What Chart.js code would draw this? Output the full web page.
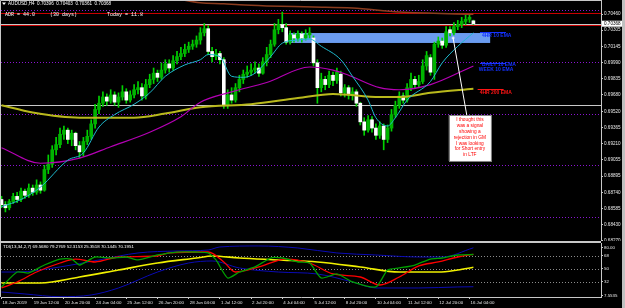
<!DOCTYPE html>
<html>
<head>
<meta charset="utf-8">
<script src="https://cdn.jsdelivr.net/npm/chart.js@4.4.1/dist/chart.umd.min.js"></script>
<style>
  html, body { margin: 0; padding: 0; background: #000; }
  body { width: 625px; height: 308px; position: relative; overflow: hidden; }
  canvas { position: absolute; left: 0; }
  #main { top: 0; }
  #tdi { top: 243px; }
  #sep { position: absolute; left: 0; top: 241px; width: 601px; height: 2px; background: #c8c8c8; }
  #edge { position: absolute; left: 622px; top: 0; width: 3px; height: 308px; background: #c0c0c0; }
</style>
</head>
<body>
<canvas id="main" width="625" height="241" style="width:625px;height:241px"></canvas>
<div id="sep"></div>
<canvas id="tdi" width="625" height="65" style="width:625px;height:65px"></canvas>
<div id="edge"></div>
<script>
// AUDUSD H4 candles, 18 Jun 2019 .. 16 Jul 04:00
var candleOpen = [
  0.6867,0.6862,0.6859,0.6865,0.6870,0.6867,0.6875,0.6871,0.6878,0.6874,
  0.6881,0.6876,0.6896,0.6901,0.6915,0.6920,0.6930,0.6934,0.6925,0.6931,
  0.6919,0.6913,0.6923,0.6928,0.6940,0.6954,0.6960,0.6966,0.6962,0.6968,
  0.6961,0.6966,0.6971,0.6963,0.6968,0.6973,0.6975,0.6967,0.6978,0.6983,
  0.6989,0.6985,0.6992,0.6998,0.6994,0.7001,0.7005,0.7008,0.7012,0.7015,
  0.7017,0.7021,0.7028,0.7032,0.7010,0.7005,0.7008,0.7002,0.6958,0.6968,
  0.6963,0.6975,0.6983,0.6988,0.6990,0.6992,0.6994,0.6989,0.7000,0.7007,
  0.7017,0.7031,0.7036,0.7033,0.7019,0.7026,0.7023,0.7027,0.7023,0.7026,
  0.7023,0.6999,0.6975,0.6983,0.6978,0.6987,0.6982,0.6988,0.6970,0.6975,
  0.6968,0.6971,0.6960,0.6942,0.6934,0.6944,0.6936,0.6929,0.6938,0.6925,
  0.6936,0.6949,0.6958,0.6967,0.6963,0.6975,0.6983,0.6978,0.6981,0.6996,
  0.7004,0.6990,0.7017,0.7020,0.7016,0.7031,0.7028,0.7034,0.7036,0.7039,
  0.7041,0.70396
];
var candleHigh = [
  0.6870,0.6865,0.6867,0.6873,0.6874,0.6878,0.6877,0.6882,0.6881,0.6886,
  0.6884,0.6900,0.6910,0.6919,0.6927,0.6936,0.6938,0.6936,0.6934,0.6932,
  0.6923,0.6927,0.6934,0.6944,0.6959,0.6967,0.6971,0.6969,0.6973,0.6971,
  0.6970,0.6977,0.6974,0.6972,0.6978,0.6981,0.6979,0.6983,0.6988,0.6994,
  0.6992,0.6999,0.7002,0.7002,0.7006,0.7010,0.7014,0.7017,0.7019,0.7021,
  0.7025,0.7033,0.7037,0.7035,0.7014,0.7012,0.7010,0.7004,0.6973,0.6975,
  0.6979,0.6987,0.6992,0.6996,0.6998,0.7000,0.6998,0.7004,0.7014,0.7021,
  0.7037,0.7041,0.7048,0.7037,0.7030,0.7028,0.7030,0.7029,0.7031,0.7033,
  0.7025,0.7002,0.6989,0.6986,0.6991,0.6990,0.6994,0.6991,0.6978,0.6977,
  0.6975,0.6973,0.6961,0.6946,0.6948,0.6947,0.6940,0.6942,0.6940,0.6939,
  0.6954,0.6962,0.6971,0.6970,0.6979,0.6989,0.6986,0.6987,0.7002,0.7010,
  0.7007,0.7019,0.7024,0.7023,0.7034,0.7034,0.7038,0.7040,0.7043,0.7045,
  0.7046,0.70403
];
var candleLow = [
  0.6859,0.6855,0.6857,0.6863,0.6864,0.6865,0.6868,0.6869,0.6871,0.6872,
  0.6873,0.6875,0.6892,0.6898,0.6910,0.6917,0.6925,0.6921,0.6919,0.6915,
  0.6907,0.6909,0.6920,0.6925,0.6936,0.6950,0.6957,0.6958,0.6960,0.6958,
  0.6956,0.6963,0.6960,0.6961,0.6965,0.6969,0.6963,0.6964,0.6975,0.6979,
  0.6981,0.6983,0.6989,0.6990,0.6992,0.6998,0.7002,0.7005,0.7009,0.7012,
  0.7014,0.7017,0.7025,0.7007,0.7000,0.7002,0.6998,0.6955,0.6955,0.6960,
  0.6961,0.6971,0.6979,0.6985,0.6987,0.6989,0.6986,0.6988,0.6996,0.7004,
  0.7015,0.7027,0.7029,0.7017,0.7017,0.7019,0.7020,0.7019,0.7021,0.7023,
  0.6996,0.6960,0.6971,0.6973,0.6975,0.6977,0.6979,0.6967,0.6966,0.6964,
  0.6963,0.6957,0.6939,0.6929,0.6932,0.6932,0.6925,0.6926,0.6915,0.6922,
  0.6933,0.6946,0.6955,0.6960,0.6961,0.6972,0.6974,0.6975,0.6979,0.6992,
  0.6987,0.6983,0.7014,0.7013,0.7014,0.7025,0.7026,0.7031,0.7033,0.7036,
  0.7038,0.70361
];
var candleClose = [
  0.6862,0.6859,0.6865,0.6870,0.6867,0.6875,0.6871,0.6878,0.6874,0.6881,
  0.6876,0.6896,0.6901,0.6915,0.6920,0.6930,0.6934,0.6925,0.6931,0.6919,
  0.6913,0.6923,0.6928,0.6940,0.6954,0.6960,0.6966,0.6962,0.6968,0.6961,
  0.6966,0.6971,0.6963,0.6968,0.6973,0.6975,0.6967,0.6978,0.6983,0.6989,
  0.6985,0.6992,0.6998,0.6994,0.7001,0.7005,0.7008,0.7012,0.7015,0.7017,
  0.7021,0.7028,0.7032,0.7010,0.7005,0.7008,0.7002,0.6958,0.6968,0.6963,
  0.6975,0.6983,0.6988,0.6990,0.6992,0.6994,0.6989,0.7000,0.7007,0.7017,
  0.7031,0.7036,0.7033,0.7019,0.7026,0.7023,0.7027,0.7023,0.7026,0.7028,
  0.6999,0.6975,0.6983,0.6978,0.6987,0.6982,0.6990,0.6970,0.6975,0.6968,
  0.6971,0.6960,0.6942,0.6934,0.6944,0.6936,0.6929,0.6938,0.6925,0.6936,
  0.6949,0.6958,0.6967,0.6963,0.6975,0.6983,0.6978,0.6981,0.6996,0.7006,
  0.6990,0.7017,0.7020,0.7016,0.7029,0.7028,0.7034,0.7036,0.7039,0.7041,
  0.7043,0.70368
];

// moving averages as [bar, price]
var ema4h10 = [[0,0.6860],[5,0.6867],[10,0.6879],[17,0.6905],[21,0.6912],[25,0.6937],[29,0.6949],[34,0.6959],[38,0.6970],[42,0.6986],[47,0.6997],[51,0.7002],[53,0.7007],[56,0.7005],[59,0.6986],[62,0.6985],[65,0.6989],[69,0.7005],[72,0.7018],[76,0.7021],[79,0.7022],[82,0.7015],[87,0.7002],[90,0.6986],[94,0.6963],[96,0.6946],[99,0.6938],[101,0.6946],[104,0.6963],[110,0.6981],[113,0.6999],[117,0.7015],[121,0.7028]];
var emaDaily10 = [[0,0.6917],[10,0.6902],[20,0.6907],[28,0.6918],[38,0.6932],[46,0.6947],[51,0.6961],[59,0.6971],[68,0.6980],[79,0.6995],[85,0.6992],[89,0.6987],[97,0.6975],[102,0.6973],[110,0.6978],[121,0.6996]];
var ema4h200 = [[0,0.6958],[8,0.6951],[20,0.6946],[34,0.6946],[42,0.6950],[51,0.6956],[64,0.6959],[76,0.6965],[85,0.6969],[97,0.6966],[102,0.6966],[110,0.6970],[121,0.6974]];
var emaLong = [[45,0.7061],[51,0.7057],[57,0.7056],[61,0.7055],[68,0.7054],[80,0.7053],[90,0.7052],[102,0.7048],[121,0.7046]];

// TDI(13,34,2,7)
var tdiPrice = [[0,25.1],[4,45.8],[7,44.5],[11,55.5],[15,63.8],[18,63.8],[20,55.5],[24,66.6],[28,65.2],[32,66.6],[35,62.5],[40,69.4],[45,73.5],[50,73.5],[53,72.2],[55,62.5],[58,37.5],[61,45.8],[65,52.8],[69,65.2],[72,65.2],[76,59.7],[79,58.3],[82,37.5],[86,43.1],[90,32.0],[96,25.1],[99,48.6],[102,51.4],[106,55.5],[110,63.8],[113,65.2],[117,69.4],[121,70.1]];
var tdiSignal = [[0,23.7],[4,32.0],[9,45.8],[15,58.3],[19,63.8],[24,59.7],[30,66.6],[40,68.0],[43,72.2],[53,73.5],[57,59.7],[60,45.8],[66,52.8],[73,63.8],[79,58.3],[85,43.1],[92,38.9],[97,27.8],[102,38.9],[107,54.2],[112,59.7],[117,66.6],[121,70.2]];
var tdiBase = [[0,30.6],[10,30.6],[20,38.9],[30,48.6],[40,58.3],[50,65.2],[54,68.0],[61,65.2],[71,62.5],[81,59.7],[92,52.8],[102,45.8],[112,45.8],[117,48.6],[121,52.3]];
var tdiUpper = [[0,45.8],[4,45.8],[15,52.8],[25,62.5],[35,72.2],[45,74.9],[53,76.3],[56,80.5],[66,81.9],[76,79.1],[86,72.2],[96,69.4],[107,66.6],[113,66.6],[121,79.3]];
var tdiLower = [[0,18.1],[6,15.4],[15,11.6],[23,14.0],[30,23.7],[40,45.8],[48,58.3],[54,61.1],[61,51.4],[71,45.8],[81,43.1],[90,32.0],[96,23.7],[107,23.7],[117,25.1],[121,25.4]];

var priceTicks = [0.70460,0.70305,0.70145,0.69990,0.69835,0.69680,0.69520,0.69365,0.69210,0.69055,0.68895,0.68740,0.68585,0.68430,0.68270];
var roundLevels = [0.7050,0.7000,0.6950,0.6900,0.6850];
var redLevels = [0.70471,0.70356];
var supportLevel = 0.69583;
var bidPrice = 0.70368;

var timeTickBars = [0,8,16,24,32,40,48,56,64,72,80,88,96,104,112,120];
var timeLabels = ['18 Jun 2019','19 Jun 12:00','20 Jun 20:00','24 Jun 04:00','25 Jun 12:00','26 Jun 20:00','28 Jun 04:00','1 Jul 12:00','2 Jul 20:00','4 Jul 04:00','5 Jul 12:00','8 Jul 20:00','10 Jul 04:00','11 Jul 12:00','12 Jul 20:00','16 Jul 04:00'];

var tdiTicks = [80, 68, 50, 32, 12.6];
var tdiTickText = ['80.00', '68', '50', '32', '7.5535'];
var tdiLevels = [68, 50, 32];

var noteLines = ['I thought this', 'was a signal', 'showing a', 'rejection in GM', 'I was looking', 'for Short entry', 'in LTF'];

var xMin = -0.13, xMax = 153.72;
var FONT = '"Liberation Sans", Arial, sans-serif';

Chart.defaults.font.family = FONT;
Chart.defaults.color = '#e6e6e6';

function pts(a) { return a.map(function (p) { return {x: p[0], y: p[1]}; }); }
function hline(ctx, x1, x2, y) { ctx.beginPath(); ctx.moveTo(x1, y); ctx.lineTo(x2, y); ctx.stroke(); }

var wickData = candleHigh.map(function (h, i) { return {x: i, y: [candleLow[i], h]}; });
var bodyData = candleOpen.map(function (o, i) { return {x: i, y: [Math.min(o, candleClose[i]), Math.max(o, candleClose[i])]}; });
var bodyColors = candleOpen.map(function (o, i) { return candleClose[i] >= o ? '#00b400' : '#ffffff'; });

var mtObjects = {
  id: 'mtObjects',
  beforeDatasetsDraw: function (chart) {
    var ctx = chart.ctx, a = chart.chartArea, x = chart.scales.x, y = chart.scales.y;
    ctx.save();
    ctx.beginPath(); ctx.rect(a.left, a.top, a.right - a.left, a.bottom - a.top); ctx.clip();
    // rectangle zone
    var rx1 = x.getPixelForValue(73.7), rx2 = x.getPixelForValue(125.3);
    var ry1 = y.getPixelForValue(0.70278), ry2 = y.getPixelForValue(0.70182);
    ctx.fillStyle = '#6b9cf0';
    ctx.fillRect(rx1, ry1, rx2 - rx1, ry2 - ry1);
    ctx.lineWidth = 1;
    ctx.strokeStyle = '#8a14d2'; ctx.setLineDash([1, 2]);
    roundLevels.forEach(function (v) { hline(ctx, a.left, a.right, Math.round(y.getPixelForValue(v)) + 0.5); });
    ctx.setLineDash([]);
    ctx.strokeStyle = '#c80000';
    redLevels.forEach(function (v) { hline(ctx, a.left, a.right, Math.round(y.getPixelForValue(v)) + 0.5); });
    ctx.strokeStyle = '#c8c8c8';
    hline(ctx, a.left, a.right, Math.round(y.getPixelForValue(supportLevel)) + 0.5);
    hline(ctx, a.left, a.right, Math.round(y.getPixelForValue(bidPrice)) + 0.5);
    ctx.restore();
  },
  afterDatasetsDraw: function (chart) {
    var ctx = chart.ctx, a = chart.chartArea, x = chart.scales.x, y = chart.scales.y;
    ctx.save();
    ctx.beginPath(); ctx.rect(a.left, a.top, a.right - a.left, a.bottom - a.top); ctx.clip();
    // ema tags
    var tags = [
      {text: '4HR 10 EMA', at: 123.2, price: 0.70254, color: '#1432ff', mark: 0.70288},
      {text: 'DAILY 10 EMA', at: 123.2, price: 0.69969, color: '#1432ff', mark: 0.69988},
      {text: 'WEEK 10 EMA', at: 122.4, price: 0.69921, color: '#1432ff'},
      {text: '4HR 200 EMA', at: 122.6, price: 0.69703, color: '#ff1414', mark: 0.69737}
    ];
    ctx.font = 'bold 5px ' + FONT;
    ctx.textBaseline = 'middle';
    tags.forEach(function (t) {
      var tx = x.getPixelForValue(t.at);
      ctx.fillStyle = t.color;
      ctx.fillText(t.text, tx, y.getPixelForValue(t.price));
      if (t.mark) {
        ctx.strokeStyle = t.color; ctx.lineWidth = 1;
        hline(ctx, tx - 2, tx + 24, Math.round(y.getPixelForValue(t.mark)) + 0.5);
      }
    });
    // arrow to note
    var ax1 = x.getPixelForValue(115.8), ay1 = y.getPixelForValue(0.70230);
    var ax2 = x.getPixelForValue(119.3), ay2 = y.getPixelForValue(0.69486);
    ctx.strokeStyle = '#ffffff'; ctx.lineWidth = 1;
    ctx.beginPath(); ctx.moveTo(ax1, ay1); ctx.lineTo(ax2, ay2); ctx.stroke();
    ctx.fillStyle = '#ffffff';
    ctx.fillRect(ax1 - 1.5, ay1 - 0.5, 3, 1); ctx.fillRect(ax1 - 0.5, ay1 - 1.5, 1, 3);
    // note box
    var bx1 = x.getPixelForValue(114.7), bx2 = x.getPixelForValue(125.5);
    var by1 = y.getPixelForValue(0.69486), by2 = y.getPixelForValue(0.69042);
    ctx.fillStyle = '#ffffff';
    ctx.fillRect(bx1, by1, bx2 - bx1, by2 - by1);
    ctx.strokeStyle = '#808080';
    ctx.strokeRect(Math.round(bx1) + 0.5, Math.round(by1) + 0.5, Math.round(bx2 - bx1), Math.round(by2 - by1));
    ctx.fillStyle = '#ff0000';
    ctx.font = '4.8px ' + FONT;
    ctx.textAlign = 'center';
    noteLines.forEach(function (s, k) { ctx.fillText(s, (bx1 + bx2) / 2, by1 + 5 + k * 5.8); });
    // header
    ctx.textAlign = 'left';
    ctx.fillStyle = '#ffffff';
    ctx.beginPath(); ctx.moveTo(2, 2.5); ctx.lineTo(6, 2.5); ctx.lineTo(4, 5); ctx.closePath(); ctx.fill();
    ctx.font = '4.6px ' + FONT;
    ctx.fillText('AUDUSD,H4  0.70396  0.70403  0.70361  0.70368', 8, 4);
    ctx.font = '5px "Liberation Mono", monospace';
    ctx.fillText('ADR = 44.0', 5, 14.5);
    ctx.fillText('(30 days)', 50, 14.5);
    ctx.fillText('Today = 11.8', 107, 14.5);
    ctx.restore();
  },
  afterDraw: function (chart) {
    var ctx = chart.ctx, a = chart.chartArea, y = chart.scales.y;
    ctx.save();
    ctx.strokeStyle = '#c8c8c8'; ctx.lineWidth = 1;
    ctx.beginPath();
    ctx.moveTo(a.left - 0.5, a.bottom); ctx.lineTo(a.left - 0.5, 0.5); ctx.lineTo(a.right, 0.5);
    ctx.stroke();
    var py = y.getPixelForValue(bidPrice);
    ctx.fillStyle = '#ffffff';
    ctx.fillRect(a.right + 1, py - 3, 21, 6);
    ctx.fillStyle = '#000000';
    ctx.font = '4.6px ' + FONT;
    ctx.textBaseline = 'middle';
    ctx.fillText(bidPrice.toFixed(5), a.right + 3, py);
    ctx.restore();
  }
};

new Chart(document.getElementById('main'), {
  type: 'bar',
  data: {
    datasets: [
      {type: 'line', data: pts(ema4h10), borderColor: '#1eb9cd', borderWidth: 1, pointRadius: 0, cubicInterpolationMode: 'monotone', order: 1},
      {type: 'line', data: pts(emaDaily10), borderColor: '#b400b4', borderWidth: 1.2, pointRadius: 0, cubicInterpolationMode: 'monotone', order: 1},
      {type: 'line', data: pts(ema4h200), borderColor: '#b9b91c', borderWidth: 2, pointRadius: 0, cubicInterpolationMode: 'monotone', order: 1},
      {type: 'line', data: pts(emaLong), borderColor: '#8c3c1e', borderWidth: 1.5, pointRadius: 0, cubicInterpolationMode: 'monotone', order: 1},
      {data: bodyData, backgroundColor: bodyColors, barThickness: 3, grouped: false, minBarLength: 1, order: 2},
      {data: wickData, backgroundColor: '#00d200', barThickness: 1, grouped: false, order: 3}
    ]
  },
  options: {
    responsive: false,
    animation: false,
    layout: {padding: {left: 1, top: 0, right: 0, bottom: 0}},
    plugins: {legend: {display: false}, tooltip: {enabled: false}},
    scales: {
      x: {type: 'linear', min: xMin, max: xMax, display: false, offset: false},
      y: {
        position: 'right',
        min: 0.68269,
        max: 0.70597,
        afterBuildTicks: function (s) { s.ticks = priceTicks.map(function (v) { return {value: v}; }); },
        afterFit: function (s) { s.width = 24; s.paddingTop = 0; s.paddingBottom = 0; },
        ticks: {font: {size: 4.6}, color: '#e6e6e6', padding: 1, callback: function (v) { return v.toFixed(5); }},
        grid: {drawOnChartArea: false, drawTicks: true, tickLength: 2, color: '#c8c8c8'},
        border: {display: true, color: '#c8c8c8'}
      }
    }
  },
  plugins: [mtObjects]
});

var tdiObjects = {
  id: 'tdiObjects',
  beforeDatasetsDraw: function (chart) {
    var ctx = chart.ctx, a = chart.chartArea, y = chart.scales.y;
    ctx.save();
    ctx.strokeStyle = '#8c8c8c'; ctx.lineWidth = 1; ctx.setLineDash([1, 2]);
    tdiLevels.forEach(function (v) { hline(ctx, a.left, a.right, Math.round(y.getPixelForValue(v)) + 0.5); });
    ctx.restore();
  },
  afterDraw: function (chart) {
    var ctx = chart.ctx, a = chart.chartArea;
    ctx.save();
    ctx.strokeStyle = '#c8c8c8'; ctx.lineWidth = 1;
    ctx.beginPath(); ctx.moveTo(a.left - 0.5, 0); ctx.lineTo(a.left - 0.5, a.bottom); ctx.stroke();
    ctx.fillStyle = '#ffffff';
    ctx.font = '4.4px ' + FONT;
    ctx.textBaseline = 'middle';
    ctx.fillText('TDI(13,34,2,7) 69.5680 79.2769 52.3153 25.3518 70.1445 70.1951', 3, 4);
    ctx.restore();
  }
};

new Chart(document.getElementById('tdi'), {
  type: 'line',
  data: {
    datasets: [
      {data: pts(tdiPrice), borderColor: '#00a000', borderWidth: 1.3, pointRadius: 0, tension: 0.2},
      {data: pts(tdiSignal), borderColor: '#ff0000', borderWidth: 1.3, pointRadius: 0, cubicInterpolationMode: 'monotone'},
      {data: pts(tdiBase), borderColor: '#f0f000', borderWidth: 1.6, pointRadius: 0, cubicInterpolationMode: 'monotone'},
      {data: pts(tdiUpper), borderColor: '#0a0ab4', borderWidth: 1, pointRadius: 0, cubicInterpolationMode: 'monotone'},
      {data: pts(tdiLower), borderColor: '#0a0ab4', borderWidth: 1, pointRadius: 0, cubicInterpolationMode: 'monotone'}
    ]
  },
  options: {
    responsive: false,
    animation: false,
    layout: {padding: {left: 1, top: 0, right: 0, bottom: 0}},
    plugins: {legend: {display: false}, tooltip: {enabled: false}},
    scales: {
      x: {
        type: 'linear', min: xMin, max: xMax,
        afterBuildTicks: function (s) { s.ticks = timeTickBars.map(function (v) { return {value: v}; }); },
        afterFit: function (s) { s.height = 11; s.paddingLeft = 0; s.paddingRight = 0; },
        ticks: {font: {size: 4.4}, color: '#e6e6e6', align: 'start', labelOffset: 1, padding: 1, maxRotation: 0, autoSkip: false,
          callback: function (v, i) { return timeLabels[i]; }},
        grid: {drawOnChartArea: false, drawTicks: true, tickLength: 2, color: '#c8c8c8'},
        border: {display: true, color: '#c8c8c8'}
      },
      y: {
        position: 'right', min: 11.2, max: 86,
        afterBuildTicks: function (s) { s.ticks = tdiTicks.map(function (v) { return {value: v}; }); },
        afterFit: function (s) { s.width = 24; s.paddingTop = 0; s.paddingBottom = 0; },
        ticks: {font: {size: 4.4}, color: '#e6e6e6', padding: 1, callback: function (v, i) { return tdiTickText[i]; }},
        grid: {drawOnChartArea: false, drawTicks: true, tickLength: 2, color: '#c8c8c8'},
        border: {display: true, color: '#c8c8c8'}
      }
    }
  },
  plugins: [tdiObjects]
});
</script>
</body>
</html>
